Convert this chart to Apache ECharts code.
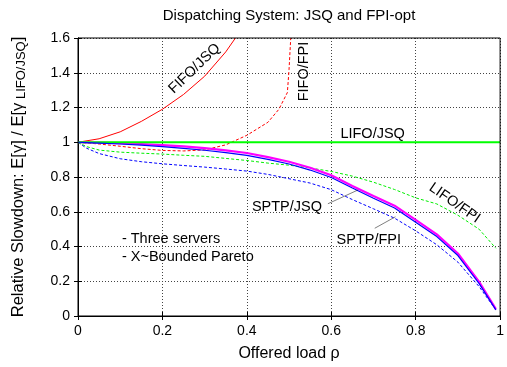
<!DOCTYPE html>
<html><head><meta charset="utf-8">
<script src="https://cdn.jsdelivr.net/npm/echarts@6/dist/echarts.min.js"></script>
<style>html,body{margin:0;padding:0;background:#fff}#c{width:507px;height:367px}</style>
</head><body><div id="c"></div>
<script>
// ---- data ----
const xTicks = [0, 0.2, 0.4, 0.6, 0.8, 1];
const yTicks = [0, 0.2, 0.4, 0.6, 0.8, 1, 1.2, 1.4, 1.6];
const rho = [0,0.02,0.05,0.1,0.15,0.2,0.25,0.3,0.35,0.4,0.45,0.5,0.55,0.6,0.65,0.7,0.75,0.8,0.85,0.9,0.95,0.99];
const fifoJsqRho = [0,0.05,0.1,0.15,0.2,0.25,0.3,0.35,0.373];
const fifoJsq = [1.0,1.02,1.06,1.12,1.19,1.275,1.38,1.52,1.6];
const fifoFpiRho = [0,0.05,0.1,0.15,0.2,0.25,0.3,0.35,0.4,0.45,0.476,0.496,0.5,0.504];
const fifoFpi = [1.0,0.99,0.977,0.963,0.953,0.95,0.956,0.985,1.04,1.115,1.19,1.286,1.42,1.6];
const lifoJsqRho = [0,1];
const lifoJsq = [1,1];
const lifoFpi = [1.0,0.975,0.955,0.943,0.937,0.932,0.925,0.919,0.907,0.895,0.88,0.868,0.852,0.832,0.805,0.77,0.728,0.68,0.645,0.58,0.5,0.39];
const sptpJsqA = [1.0,0.999,0.998,0.995,0.99,0.984,0.976,0.966,0.953,0.938,0.914,0.888,0.853,0.81,0.748,0.69,0.635,0.553,0.47,0.36,0.198,0.04];
const sptpJsqB = [1.0,0.998,0.995,0.99,0.983,0.975,0.965,0.954,0.94,0.924,0.901,0.875,0.84,0.797,0.737,0.678,0.622,0.54,0.457,0.348,0.188,0.035];
const sptpFpi = [1.0,0.966,0.935,0.905,0.888,0.876,0.866,0.857,0.846,0.834,0.815,0.79,0.765,0.727,0.67,0.617,0.563,0.49,0.41,0.31,0.17,0.035];
// annotations (data coordinates)
const labels = [
  {text:'FIFO/JSQ', x:0.276, y:1.424, rot:44},
  {text:'FIFO/FPI', x:0.535, y:1.407, rot:90},
  {text:'LIFO/JSQ', x:0.698, y:1.045, rot:0},
  {text:'LIFO/FPI', x:0.892, y:0.65, rot:-35},
  {text:'SPTP/JSQ', x:0.495, y:0.628, rot:0},
  {text:'SPTP/FPI', x:0.689, y:0.436, rot:0}
];
const leaders = [
  [[0.592,0.646],[0.663,0.725]],
  [[0.703,0.505],[0.752,0.571]]
];
const notes = [
  {text:'- Three servers', x:0.104, y:0.441},
  {text:'- X~Bounded Pareto', x:0.104, y:0.339}
];

const FONT = 'Liberation Sans, Arial, sans-serif';
const zip = (xs, ys) => xs.map((v,i)=>[v, ys[i]]);
const chart = echarts.init(document.getElementById('c'));
const tickFmt = v => String(Math.round(v*10)/10);
const baseAxis = {
  min:0, interval:0.2,
  axisLine:{show:true, lineStyle:{color:'#000', width:1}},
  axisTick:{show:true, inside:true, length:4, lineStyle:{color:'#000'}},
  splitLine:{show:false}
};
function line(name, data, color, width, dashed, z){
  return {type:'line', name, data, showSymbol:false, symbol:'none', smooth:false, z:z||2,
    lineStyle:{color, width, type: dashed ? [3,2] : 'solid'}, xAxisIndex:0, yAxisIndex:0, silent:true, animation:false};
}
chart.setOption({
  animation:false,
  grid:{left:78, right:5, top:38, bottom:46, show:false},
  xAxis:[
    Object.assign({}, baseAxis, {type:'value', max:1, position:'bottom',
      name:'Offered load ρ', nameLocation:'middle', nameGap:30,
      nameTextStyle:{fontFamily:FONT, fontSize:16, color:'#000'},
      axisLabel:{fontFamily:FONT, fontSize:14, color:'#000', margin:8, formatter:tickFmt},
      splitLine:{show:true, lineStyle:{color:'#444', width:1, type:[1,2]}}}),
    Object.assign({}, baseAxis, {type:'value', max:1, position:'top', axisLabel:{show:false}})
  ],
  yAxis:[
    Object.assign({}, baseAxis, {type:'value', max:1.6, position:'left',
      name:'Relative Slowdown: E[γ] / E[γ{sub| LIFO/JSQ}]', nameLocation:'middle', nameGap:50, nameRotate:90,
      nameTextStyle:{fontFamily:FONT, fontSize:16.5, color:'#000', lineHeight:20,
        rich:{sub:{fontFamily:FONT, fontSize:13, color:'#000', verticalAlign:'bottom', lineHeight:13}}},
      axisLabel:{fontFamily:FONT, fontSize:14, color:'#000', margin:8, formatter:tickFmt},
      splitLine:{show:true, lineStyle:{color:'#444', width:1, type:[1,2]}}}),
    Object.assign({}, baseAxis, {type:'value', max:1.6, position:'right', axisLabel:{show:false}})
  ],
  series:[
    line('FIFO/JSQ', zip(fifoJsqRho, fifoJsq), '#ff0000', 1, false, 3),
    line('FIFO/FPI', zip(fifoFpiRho, fifoFpi), '#ff0000', 1, true, 3),
    line('SPTP/FPI', zip(rho, sptpFpi), '#0000ff', 1, true, 3),
    line('LIFO/FPI', zip(rho, lifoFpi), '#00ee00', 1, true, 3),
    line('SPTP/JSQ', zip(rho, sptpJsqA), '#ff00ff', 2.2, false, 4),
    line('SPTP/JSQ (b)', zip(rho, sptpJsqB), '#0000ff', 1.2, false, 5),
    line('LIFO/JSQ', zip(lifoJsqRho, lifoJsq), '#00ff00', 2, false, 4),
    {type:'lines', coordinateSystem:'cartesian2d', silent:true, z:6,
     data: leaders.map(c=>({coords:c})), lineStyle:{color:'#000', width:1}}
  ]
});
function place(){
  const g = [];
  labels.forEach(l=>{
    const p = chart.convertToPixel({gridIndex:0}, [l.x, l.y]);
    g.push({type:'text', x:p[0], y:p[1], rotation:l.rot*Math.PI/180, z:10,
      style:{text:l.text, fontFamily:FONT, fontSize:14.5, fill:'#000', align:'center', verticalAlign:'middle'}});
  });
  notes.forEach(l=>{
    const p = chart.convertToPixel({gridIndex:0}, [l.x, l.y]);
    g.push({type:'text', x:p[0], y:p[1], z:10,
      style:{text:l.text, fontFamily:FONT, fontSize:14.5, fill:'#000', align:'left', verticalAlign:'middle'}});
  });
  const tl = chart.convertToPixel({gridIndex:0}, [0, 1.6]);
  const br = chart.convertToPixel({gridIndex:0}, [1, 0]);
  g.push({type:'rect', shape:{x:tl[0], y:tl[1], width:br[0]-tl[0], height:br[1]-tl[1]}, z:11, silent:true,
    style:{fill:'none', stroke:'#000', lineWidth:1}});
  // title centred over the plot area
  g.push({type:'text', x:(tl[0]+br[0])/2, y:16, z:10,
    style:{text:'Dispatching System: JSQ and FPI-opt', fontFamily:FONT, fontSize:15, fill:'#000', align:'center', verticalAlign:'middle'}});
  chart.setOption({graphic:g});
}
place();
</script></body></html>
